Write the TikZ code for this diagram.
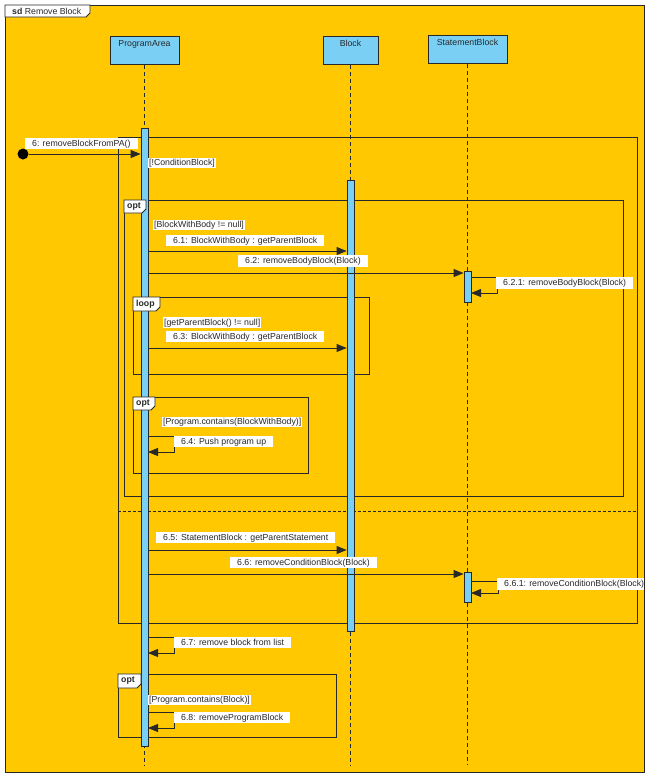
\documentclass[tikz,border=0pt]{standalone}
\usepackage{fontspec}
\setmainfont{Liberation Sans}
\usetikzlibrary{arrows.meta}
\definecolor{bgY}{RGB}{255,200,0}
\definecolor{llB}{RGB}{122,207,245}
\definecolor{ink}{RGB}{40,40,40}
\tikzset{
  every node/.style={font=\fontsize{8.75}{10}\selectfont, text=ink},
  head/.style={draw=ink, fill=llB, line width=0.9pt, anchor=north, inner xsep=0pt, inner ysep=3pt, text height=7pt, text depth=15pt},
  actbar/.style={draw=ink, fill=llB, line width=0.8pt, minimum width=7pt, inner sep=0pt},
  lifeline/.style={draw=ink, line width=0.8pt, dash pattern=on 4pt off 3pt},
  frag/.style={draw=ink, line width=0.8pt},
  sepline/.style={draw=ink, line width=0.8pt, dash pattern=on 3pt off 2pt},
  tabshape/.style={draw=ink, fill=white, line width=0.8pt},
  tabtext/.style={anchor=west, inner sep=0pt, font=\fontsize{8.75}{10}\selectfont\bfseries},
  msg/.style={draw=ink, line width=0.8pt, -{Triangle[length=10pt,width=8pt]}},
  lbl/.style={fill=white, anchor=west, inner xsep=7pt, inner ysep=0pt, minimum height=11.5pt, text height=7pt, text depth=2pt},
  guard/.style={fill=white, anchor=west, inner xsep=1pt, inner ysep=0pt, minimum height=10.5pt, text height=7pt, text depth=2pt}
}
\begin{document}
\begin{tikzpicture}[x=1pt,y=-1pt]
\useasboundingbox (0,0) rectangle (650,777);
\fill[white] (0,0) rectangle (650,777);
% diagram frame
\draw[fill=bgY, draw=ink, line width=0.9pt] (5,5) rectangle (644,772);
\draw[tabshape] (5,5) -- (90,5) -- (90,13) -- (86,17) -- (5,17) -- cycle;
\node[anchor=west, inner sep=0pt] (title) at (12,11) {\textbf{sd} Remove Block};

% lifeline heads
\node[head, minimum width=69pt] (pa) at (144.5,36) {ProgramArea};
\node[head, minimum width=55pt] (blk) at (350.5,36) {Block};
\node[head, minimum width=79pt] (sb) at (467.5,35) {StatementBlock};
\coordinate (paend) at (144.5,765);
\coordinate (blkend) at (350.5,765);
\coordinate (sbend) at (467.5,765);
\draw[lifeline] (pa) -- (paend);
\draw[lifeline] (blk) -- (blkend);
\draw[lifeline] (sb) -- (sbend);

% combined fragments (frames)
\draw[frag] (118,137) rectangle (637,623);
\draw[sepline] (118,511) -- (637,511);
\draw[frag] (124,200) rectangle (623,496);
\draw[frag] (133,297) rectangle (369,374);
\draw[frag] (133,397) rectangle (308,473);
\draw[frag] (118,674) rectangle (336,737);

% activation bars
\node[actbar, minimum height=618pt] (pabar) at (144.5,437) {};
\node[actbar, minimum height=451pt] (blkbar) at (350.5,405.5) {};
\node[actbar, minimum height=31pt] (sbbar1) at (467.5,286.5) {};
\node[actbar, minimum height=30pt] (sbbar2) at (467.5,587) {};

% fragment tabs
\draw[tabshape] (124,200) -- (146,200) -- (146,209) -- (142,213) -- (124,213) -- cycle;
\node[tabtext] (opt1) at (127,206.5) {opt};
\draw[tabshape] (133,297) -- (160,297) -- (160,307) -- (156,311) -- (133,311) -- cycle;
\node[tabtext] (loop1) at (136,304) {loop};
\draw[tabshape] (133,397) -- (155,397) -- (155,406) -- (151,410) -- (133,410) -- cycle;
\node[tabtext] (opt2) at (136,403.5) {opt};
\draw[tabshape] (118,674) -- (141,674) -- (141,684) -- (137,688) -- (118,688) -- cycle;
\node[tabtext] (opt3) at (121,681) {opt};

% messages
\node[circle, fill=black, minimum size=11pt, inner sep=0pt] (start) at (23,154) {};
\draw[msg] (start) -- (start -| pabar.west);
\coordinate (a61) at (148,251);
\draw[msg] (a61) -- (a61 -| blkbar.west);
\coordinate (a62) at (148,273);
\draw[msg] (a62) -- (a62 -| sbbar1.west);
\coordinate (a621) at (471,277);
\draw[msg] (a621) -- ++(26,0) -- ++(0,16) -- ++(-26,0);
\coordinate (a63) at (148,348);
\draw[msg] (a63) -- (a63 -| blkbar.west);
\coordinate (a64) at (148,436);
\draw[msg] (a64) -- ++(26,0) -- ++(0,16) -- ++(-26,0);
\coordinate (a65) at (148,550);
\draw[msg] (a65) -- (a65 -| blkbar.west);
\coordinate (a66) at (148,574);
\draw[msg] (a66) -- (a66 -| sbbar2.west);
\coordinate (a661) at (471,581);
\draw[msg] (a661) -- ++(27,0) -- ++(0,12) -- ++(-27,0);
\coordinate (a67) at (148,637);
\draw[msg] (a67) -- ++(26,0) -- ++(0,16) -- ++(-26,0);
\coordinate (a68) at (148,712);
\draw[msg] (a68) -- ++(26,0) -- ++(0,16) -- ++(-26,0);

% labels and guards
\node[lbl, inner xsep=7pt] (l6) at (25,143.5) {6: removeBlockFromPA()};
\node[guard] (g1) at (148,163) {[!ConditionBlock]};
\node[guard] (g2) at (153,225) {[BlockWithBody != null]};
\node[lbl] (l61) at (166,240.5) {6.1: BlockWithBody : getParentBlock\hspace{3pt}};
\node[lbl] (l62) at (238,261) {6.2: removeBodyBlock(Block)};
\node[lbl] (l621) at (496,283) {6.2.1: removeBodyBlock(Block)};
\node[guard] (g3) at (163,322.5) {[getParentBlock() != null]};
\node[lbl] (l63) at (166,336.5) {6.3: BlockWithBody : getParentBlock\hspace{3pt}};
\node[guard] (g4) at (162,422) {[Program.contains(BlockWithBody)]};
\node[lbl] (l64) at (174,441.5) {6.4: Push program up};
\node[lbl] (l65) at (156,537.5) {6.5: StatementBlock : getParentStatement\hspace{3pt}};
\node[lbl] (l66) at (230,562.5) {6.6: removeConditionBlock(Block)};
\node[lbl, inner xsep=0pt] (l661) at (497,584) {\hspace{7pt}6.6.1: removeConditionBlock(Block)};
\node[lbl] (l67) at (174,642.5) {6.7: remove block from list};
\node[guard] (g5) at (148,700) {[Program.contains(Block)]};
\node[lbl] (l68) at (174,717.5) {6.8: removeProgramBlock\hspace{3pt}};
\end{tikzpicture}
\end{document}
